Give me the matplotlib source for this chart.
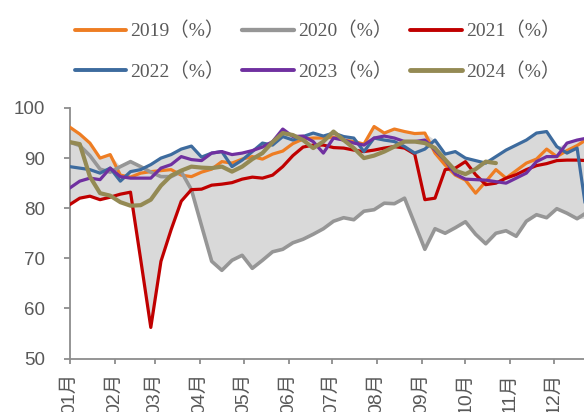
import numpy as np
import matplotlib
matplotlib.use("Agg")
import matplotlib.pyplot as plt
import datetime as dt

# ---------------- data ----------------
years = ["2019", "2020", "2021", "2022", "2023", "2024"]
week_no = np.arange(1, 53)                      # weekly observations
month_labels = [f"{m:02d}月" for m in range(1, 13)]

s2019 = [96.2, 94.8, 93.0, 90.0, 90.7, 86.6, 86.2, 87.0, 87.3, 87.5,
         87.7, 86.6, 86.3, 87.2, 87.8, 89.3, 89.0, 89.8, 90.3, 89.8,
         90.8, 91.4, 92.9, 93.8, 94.0, 94.0, 94.2, 93.6, 93.3, 92.8,
         96.3, 95.0, 95.8, 95.3, 94.9, 95.0, 91.0, 88.6, 86.6, 85.6,
         83.0, 85.3, 87.7, 86.0, 87.5, 89.0, 89.8, 91.8, 90.3, 91.5,
         92.5, 93.8]
s2020 = [93.2, 92.5, 90.5, 87.8, 87.2, 88.3, 89.3, 88.3, 87.2, 86.3,
         86.3, 87.3, 83.7, 76.5, 69.4, 67.6, 69.6, 70.6, 68.0, 69.6,
         71.3, 71.8, 73.1, 73.8, 74.8, 75.9, 77.4, 78.1, 77.7, 79.4,
         79.7, 81.0, 80.9, 82.0, 76.9, 71.8, 75.9, 75.0, 76.1, 77.3,
         74.8, 72.9, 75.0, 75.5, 74.4, 77.4, 78.7, 78.1, 79.9, 79.0,
         77.9, 79.2]
s2021 = [80.7, 82.0, 82.4, 81.7, 82.2, 82.8, 83.2, 69.8, 56.2, 69.4,
         75.7, 81.4, 83.7, 83.8, 84.6, 84.8, 85.1, 85.8, 86.2, 86.0,
         86.6, 88.3, 90.5, 92.2, 92.6, 92.6, 92.1, 92.0, 91.6, 91.3,
         91.6, 92.0, 92.3, 92.0, 90.8, 81.7, 82.0, 87.7, 88.0, 89.3,
         86.7, 84.7, 85.0, 86.0, 86.7, 87.7, 88.5, 88.9, 89.5, 89.6,
         89.6, 89.5]
s2022 = [88.3, 88.0, 87.7, 87.0, 88.0, 85.4, 87.3, 87.7, 88.7, 90.0,
         90.7, 91.8, 92.4, 90.2, 91.0, 91.3, 88.3, 89.6, 91.3, 93.0,
         92.6, 94.3, 93.6, 94.3, 95.0, 94.4, 95.0, 94.3, 94.0, 91.3,
         94.0, 93.6, 93.3, 92.3, 91.0, 91.8, 93.6, 90.8, 91.3, 90.0,
         89.5, 89.0, 90.3, 91.6, 92.6, 93.6, 95.0, 95.3, 92.3, 91.0,
         92.0, 78.0]
s2023 = [84.0, 85.4, 86.0, 85.7, 88.0, 86.3, 86.0, 86.0, 86.0, 88.0,
         88.7, 90.3, 89.7, 89.5, 91.0, 91.3, 90.7, 91.0, 91.5, 92.2,
         93.3, 95.8, 94.3, 94.4, 93.3, 91.0, 94.0, 93.6, 93.0, 92.6,
         94.0, 94.4, 94.0, 93.3, 93.3, 93.6, 91.6, 89.5, 86.8, 85.8,
         85.7, 85.6, 85.3, 85.0, 86.0, 87.0, 89.3, 90.3, 90.3, 93.0,
         93.6, 94.0]
s2024 = [93.2, 92.8, 86.3, 83.0, 82.5, 81.2, 80.5, 80.6, 81.7, 84.5,
         86.5, 87.5, 88.3, 88.1, 88.0, 88.3, 87.3, 88.3, 89.8, 91.0,
         93.2, 95.0, 94.6, 93.6, 92.0, 93.3, 95.3, 93.6, 92.0, 90.0,
         90.5, 91.3, 92.3, 93.3, 93.3, 93.0, 92.0, 89.7, 87.5, 86.8,
         87.8, 89.3, 89.0]

series = [s2019, s2020, s2021, s2022, s2023, s2024]
colors = ["#EE7D23", "#969696", "#C00000", "#3D6B9E", "#7030A0", "#948A54"]
widths = [2.3, 2.6, 2.3, 2.3, 2.3, 3.0]

# ---------------- figure ----------------
W, H = 584, 412
fig = plt.figure(figsize=(W / 100, H / 100), dpi=100)
ax_left, ax_bottom, ax_top = 69.6, 358.5, 108.0
ax = fig.add_axes([ax_left / W, 1 - ax_bottom / H, 1 - ax_left / W,
                   (ax_bottom - ax_top) / H])

# x position: day of year of each weekly observation
x = 7 * (week_no - 1) + 1.0

# envelope (min / max of all years)
mat = np.full((len(series), len(week_no)), np.nan)
for i, s in enumerate(series):
    mat[i, :len(s)] = s
lo = np.nanmin(mat, axis=0)
hi = np.nanmax(mat, axis=0)
ax.fill_between(x, lo, hi, color="#D9D9D9", lw=0, zorder=1)

lines = []
for y, s, c, lw in zip(years, series, colors, widths):
    ln, = ax.plot(x[:len(s)], s, color=c, lw=lw, label=f"{y}（%）",
                  solid_joinstyle="round", solid_capstyle="round", zorder=3)
    lines.append(ln)

# month ticks at first day of each month
month_pos = [dt.date(2019, m, 1).timetuple().tm_yday for m in range(1, 13)]
ax.set_xticks(month_pos)
ax.set_xticklabels(month_labels, rotation=90,
                   family=["Liberation Sans", "Noto Sans CJK SC"],
                   fontsize=14, color="#595959")
ax.set_yticks(np.arange(50, 101, 10))
ax.set_yticklabels([str(v) for v in range(50, 101, 10)],
                   family=["Liberation Sans"], fontsize=13.5, color="#595959")
ax.set_xlim(1, 1 + (W - ax_left) / 1.45)
ax.set_ylim(50, 100)

for side in ["top", "right"]:
    ax.spines[side].set_visible(False)
for side in ["left", "bottom"]:
    ax.spines[side].set_color("#8C8C8C")
    ax.spines[side].set_linewidth(1.3)
ax.tick_params(axis="y", length=4.5, width=1.3, color="#8C8C8C", pad=13)
ax.tick_params(axis="x", length=3.5, width=1.3, color="#8C8C8C", pad=7)

# legend laid out row by row (matplotlib fills columns first)
order = [0, 3, 1, 4, 2, 5]
leg = fig.legend([lines[i] for i in order],
                 [lines[i].get_label() for i in order],
                 loc="upper left", bbox_to_anchor=(74.5 / W, 1 - 22 / H),
                 ncol=3, frameon=False, borderpad=0, borderaxespad=0,
                 handlelength=2.67, handletextpad=0.2, columnspacing=0.9,
                 labelspacing=1.12,
                 prop={"family": ["Liberation Serif", "Noto Sans CJK SC"],
                       "size": 14})
for t in leg.get_texts():
    t.set_color("#595959")
for h in leg.legend_handles:
    h.set_linewidth(h.get_linewidth() + 0.5)

fig.savefig("out.png", dpi=100)
